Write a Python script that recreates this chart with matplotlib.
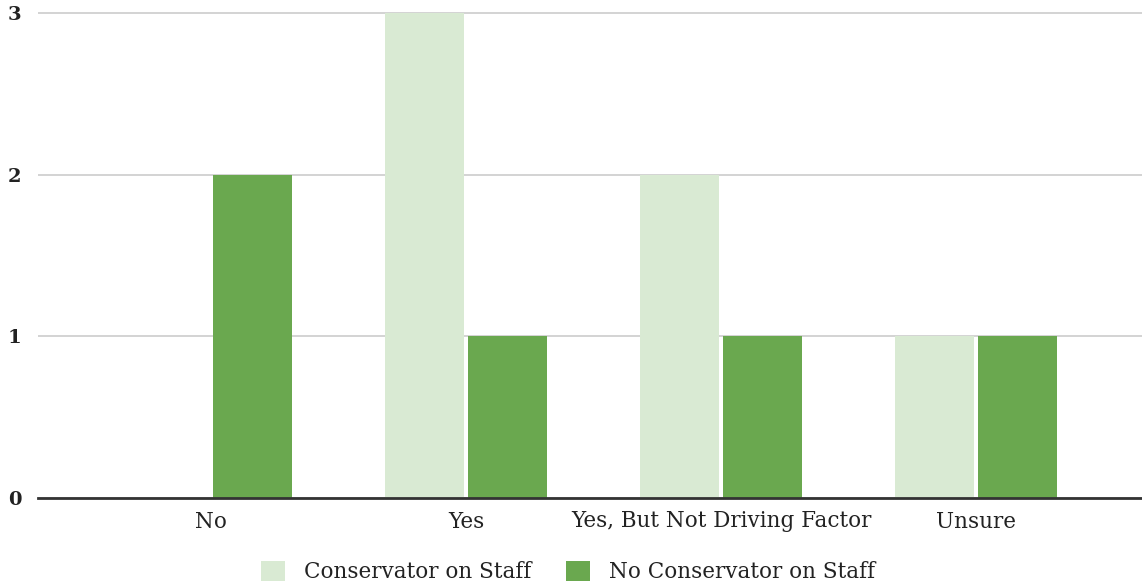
import matplotlib
matplotlib.use("Agg")
import matplotlib.pyplot as plt
import numpy as np
from matplotlib.patches import Patch

categories = ["No", "Yes", "Yes, But Not Driving Factor", "Unsure"]
series_names = ["Conservator on Staff", "No Conservator on Staff"]
conservator = [0, 3, 2, 1]
no_conservator = [2, 1, 1, 1]
colors = ["#d9ead3", "#6aa84f"]

plt.rcParams["font.family"] = ["DejaVu Serif"]

W, H = 1142, 588
fig = plt.figure(figsize=(W / 100, H / 100), dpi=100)
ymax = 3.02
px_per_unit = 485 / 3
top_px = 498 - ymax * px_per_unit
ax = fig.add_axes([38 / W, 90 / H, 1 - 38 / W, (498 - top_px) / H])

x = np.arange(len(categories))
bw = 0.31
off = 0.163
ax.bar(x - off, conservator, width=bw, color=colors[0], zorder=3)
ax.bar(x + off, no_conservator, width=bw, color=colors[1], zorder=3)

ax.set_xlim(-0.678, 3.65)
ax.set_ylim(0, ymax)
ax.set_yticks([0, 1, 2, 3])
ax.set_yticklabels(["0", "1", "2", "3"], fontsize=14, fontweight="bold", color="#222222")
ax.set_xticks(x)
ax.set_xticklabels(categories, fontsize=15.5, color="#222222")
ax.tick_params(axis="both", length=0)
ax.tick_params(axis="x", pad=9)
ax.tick_params(axis="y", pad=12)
ax.grid(axis="y", color="#cccccc", linewidth=1.2, zorder=0)
for s in ["top", "right", "left"]:
    ax.spines[s].set_visible(False)
ax.spines["bottom"].set_color("#333333")
ax.spines["bottom"].set_linewidth(2)
ax.spines["bottom"].set_zorder(4)

handles = [Patch(facecolor=c, edgecolor="none") for c in colors]
fig.legend(handles, series_names, loc="center", bbox_to_anchor=(568 / W, 1 - 572 / H),
           ncol=2, frameon=False, fontsize=15.5, handlelength=1.1, handleheight=1.1,
           handletextpad=0.9, columnspacing=1.6, labelcolor="#222222")

fig.savefig("out.png", dpi=100)
